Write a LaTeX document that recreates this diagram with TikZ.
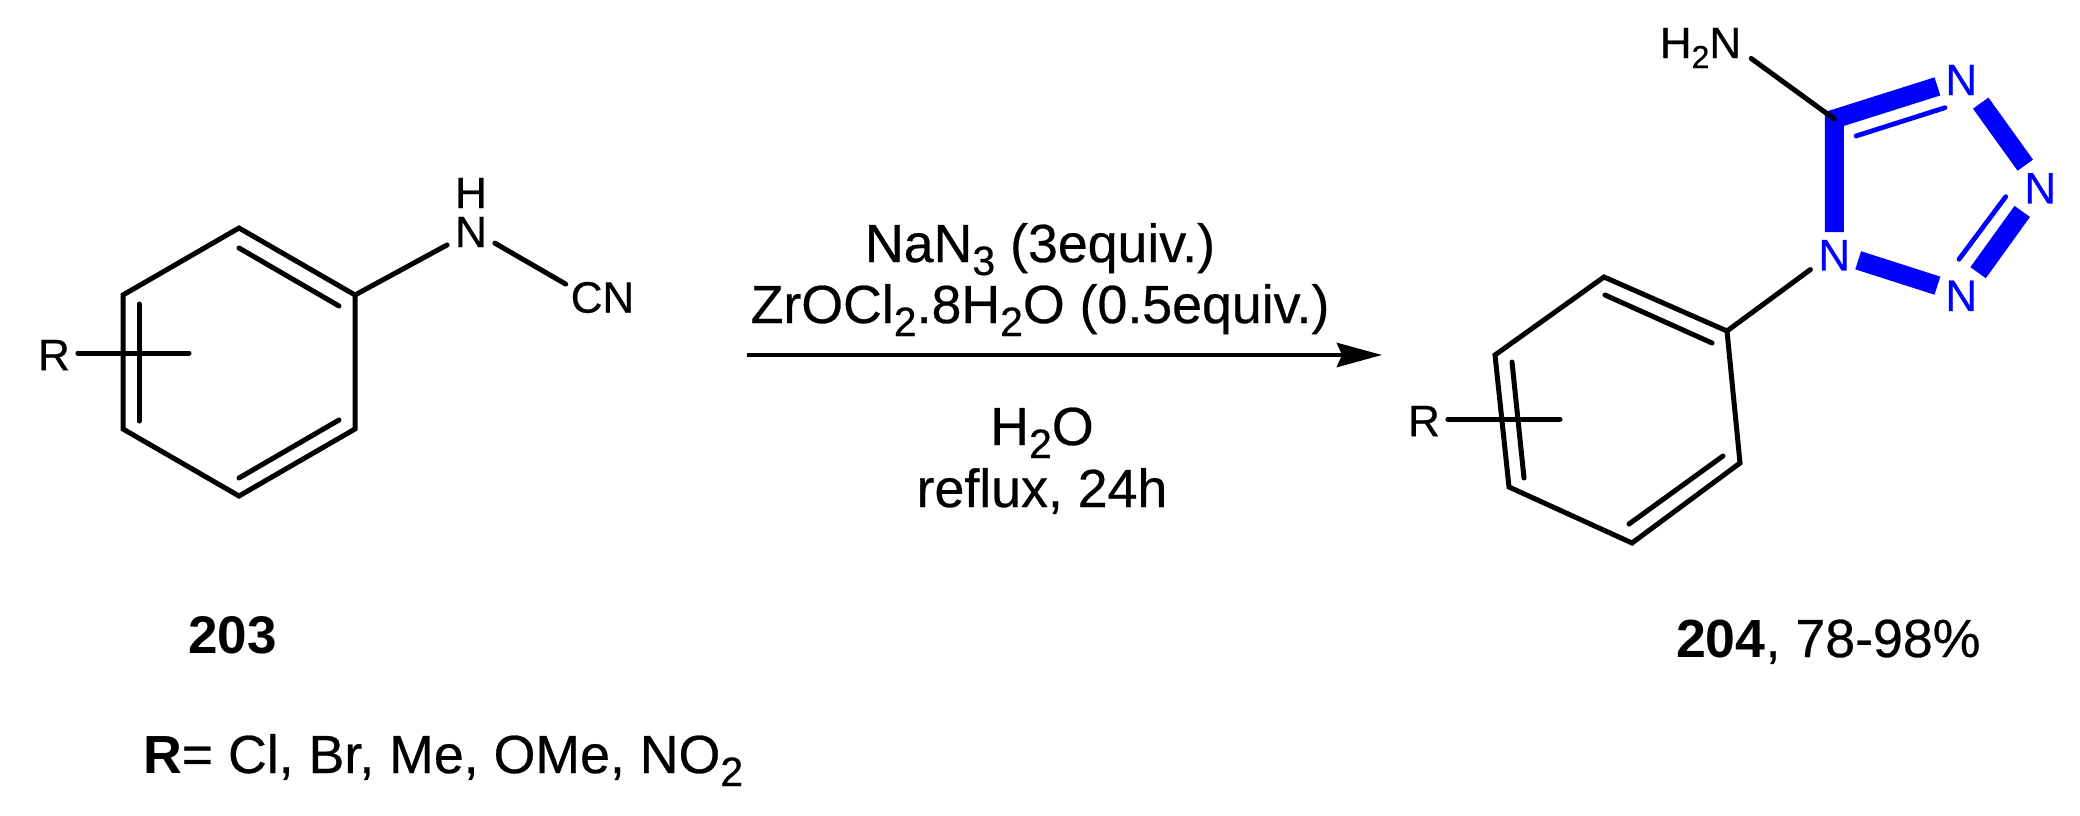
\documentclass[tikz,border=0pt]{standalone}
\usepackage{fontspec}
\setmainfont{Liberation Sans}[UprightFeatures={FakeBold=0.5}]
\usetikzlibrary{arrows.meta}
\definecolor{tetblue}{RGB}{0,0,255}
\newcommand{\sba}[1]{\smash{\raisebox{-10pt}{\fontsize{32}{32}\selectfont #1}}}
\newcommand{\sbb}[1]{\smash{\raisebox{-13pt}{\fontsize{41}{41}\selectfont #1}}}
\tikzset{
  atom/.style={inner sep=8pt,outer sep=0pt,font=\fontsize{44}{48}\selectfont},
  blueatom/.style={atom,text=tetblue},
  txt/.style={inner sep=0pt,outer sep=0pt,font=\fontsize{53.7}{60}\selectfont},
  bond/.style={draw=black,line width=5pt,line cap=round,line join=miter},
  thick bond/.style={draw=tetblue,line width=19pt,line cap=butt,line join=miter},
  thin bond/.style={draw=tetblue,line width=4.8pt,line cap=round},
  rxn arrow/.style={draw=black,line width=4.8pt,-{Stealth[length=45pt,width=24pt,inset=5pt]}}
}
\begin{document}
\begin{tikzpicture}[x=1pt,y=-1pt]
\useasboundingbox[fill=white] (0,0) rectangle (2080,816);
% left ring
\coordinate (a1) at (239,228);
\coordinate (a2) at (355,295);
\coordinate (a3) at (355,429);
\coordinate (a4) at (239,496);
\coordinate (a5) at (123,429);
\coordinate (a6) at (123,295);
\coordinate (a1i) at (239,248);
\coordinate (a2i) at (339,306);
\coordinate (a3i) at (339,420);
\coordinate (a4i) at (239,478);
\coordinate (a5i) at (139,421);
\coordinate (a6i) at (139,304);
\coordinate (rend1) at (189,353);
\node[atom] (nR1) at (54,355) {R};
\node[atom,inner sep=0pt] (nH1) at (471,193) {H};
\node[atom,inner ysep=0pt] (nN1) at (471,232) {N};
\node[atom,inner sep=5pt] (nCN) at (602.5,297.5) {CN};
\draw[bond] (a1) -- (a2) -- (a3) -- (a4) -- (a5) -- (a6) -- cycle;
\draw[bond] (a1i) -- (a2i);
\draw[bond] (a3i) -- (a4i);
\draw[bond] (a5i) -- (a6i);
\draw[bond] (rend1 -| nR1.east) -- (rend1);
\draw[bond] (a2) -- (nN1);
\draw[bond] (nN1.-25.6) -- (nCN.160);
% arrow
\coordinate (arrs) at (747,355);
\coordinate (arre) at (1382,355);
\draw[rxn arrow] (arrs) -- (arre);
\node[txt,anchor=base] (r1) at (1040,262) {NaN\sbb{3} (3equiv.)};
\node[txt,anchor=base] (r2) at (1040,323) {ZrOCl\sbb{2}.8H\sbb{2}O (0.5equiv.)};
\node[txt,anchor=base] (r3) at (1042,445) {H\sbb{2}O};
\node[txt,anchor=base] (r4) at (1042,507) {reflux, 24h};
% right ring
\coordinate (b1) at (1604,277);
\coordinate (b2) at (1727,331);
\coordinate (b3) at (1740,463);
\coordinate (b4) at (1632,543);
\coordinate (b5) at (1509,487);
\coordinate (b6) at (1495,355);
\coordinate (b1i) at (1605,295);
\coordinate (b2i) at (1712,343);
\coordinate (b3i) at (1723,456);
\coordinate (b4i) at (1629,524);
\coordinate (b5i) at (1524,478);
\coordinate (b6i) at (1512,362);
\coordinate (rend2) at (1560,419);
\node[atom] (nR2) at (1424,421) {R};
\draw[bond] (b1) -- (b2) -- (b3) -- (b4) -- (b5) -- (b6) -- cycle;
\draw[bond] (b1i) -- (b2i);
\draw[bond] (b3i) -- (b4i);
\draw[bond] (b5i) -- (b6i);
\draw[bond] (rend2 -| nR2.east) -- (rend2);
% tetrazole
\coordinate (c5) at (1834.3,119);
\node[blueatom] (t4) at (1961.3,80) {N};
\node[blueatom] (t3) at (2040.3,188.3) {N};
\node[blueatom] (t2) at (1961.3,295.8) {N};
\node[blueatom] (t1) at (1834.3,255.2) {N};
\node[atom,inner sep=10pt] (nH2N) at (1700.5,43) {H\sba{2}N};
\draw[thick bond] (t1.north) -- (c5) -- (t4.195.6);
\draw[thick bond] (t4.-50.5) -- (t3.123.5);
\draw[thick bond] (t3.232.8) -- (t2.54.5);
\draw[thick bond] (t2.157.4) -- (t1.-12.5);
\coordinate (d1) at (1856,136);
\coordinate (d2) at (1945,107.7);
\coordinate (d3) at (2005.7,196.7);
\coordinate (d4) at (1959,259.3);
\draw[thin bond] (d1) -- (d2);
\draw[thin bond] (d3) -- (d4);
\draw[bond] (nH2N.-17.5) -- (c5);
\draw[bond] (t1.211) -- (b2);
% labels
\node[txt,anchor=base,font=\fontsize{53}{60}\selectfont\bfseries] (l203) at (232.5,653) {203};
\node[txt,anchor=base west] (l204) at (1676,657) {\textbf{204}, 78-98\%};
\node[txt,anchor=base west] (lR) at (143,773) {\textbf{R}= Cl, Br, Me, OMe, NO\sbb{2}};
\end{tikzpicture}
\end{document}
